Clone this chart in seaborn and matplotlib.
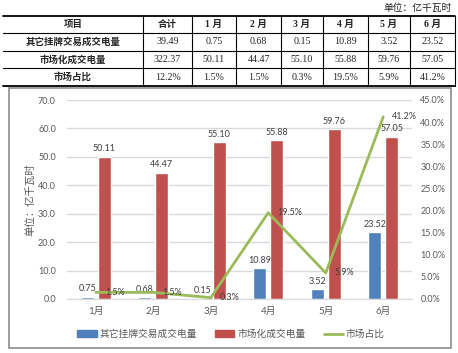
import numpy as np
import pandas as pd
import seaborn as sns
import matplotlib.pyplot as plt
from matplotlib.patches import Patch, Rectangle
from matplotlib.lines import Line2D

# data
months = ["1月", "2月", "3月", "4月", "5月", "6月"]
other_trade = [0.75, 0.68, 0.15, 10.89, 3.52, 23.52]
market_trade = [50.11, 44.47, 55.10, 55.88, 59.76, 57.05]
market_share = [1.5, 1.5, 0.3, 19.5, 5.9, 41.2]
totals = [39.49, 322.37, 12.2]
series_names = ["其它挂牌交易成交电量", "市场化成交电量", "市场占比"]
unit_text = "单位：亿千瓦时"

BLUE, RED, GREEN = "#4F81BD", "#C0504D", "#9BBB59"
GREY_TXT = "#595959"
W, H = 458, 353

sns.set_style("white")
plt.rcParams['font.family'] = ['Lato', 'Noto Sans CJK SC', 'DejaVu Sans']

fig = plt.figure(figsize=(W / 100, H / 100), dpi=100)

# ---- table on top (pixel coordinates) ----
tax = fig.add_axes([0, 0, 1, 1])
tax.set_xlim(0, W)
tax.set_ylim(H, 0)
tax.axis("off")

cjk_bold = dict(family=['Noto Sans CJK SC'], fontweight="bold", fontsize=6.8)
num_font = dict(family=['Liberation Serif', 'Noto Sans CJK SC'], fontsize=7.2)

col_edges = [3, 143, 192, 236, 281, 323, 368, 410, 455]
row_edges = [16, 33, 51, 68, 86]
col_mid = [(a + b) / 2 for a, b in zip(col_edges[:-1], col_edges[1:])]
row_mid = [(a + b) / 2 for a, b in zip(row_edges[:-1], row_edges[1:])]

tax.text(452, 8, unit_text, ha="right", va="center", fontsize=7,
         family=['Noto Sans CJK SC'], color="#222222")

header = ["项目", "合计"] + [m.replace("月", " 月") for m in months]
rows = [
    [series_names[0], f"{totals[0]:.2f}"] + [f"{v:.2f}" for v in other_trade],
    [series_names[1], f"{totals[1]:.2f}"] + [f"{v:.2f}" for v in market_trade],
    [series_names[2], f"{totals[2]:.1f}%"] + [f"{v:.1f}%" for v in market_share],
]
for j, h in enumerate(header):
    fam = cjk_bold if j < 2 else dict(family=['Liberation Serif', 'Noto Sans CJK SC'],
                                       fontweight="bold", fontsize=7)
    tax.text(col_mid[j], row_mid[0], h, ha="center", va="center", **fam)
for i, r in enumerate(rows):
    for j, cell in enumerate(r):
        style = cjk_bold if j == 0 else num_font
        tax.text(col_mid[j], row_mid[i + 1], cell, ha="center", va="center", **style)

for k, y in enumerate(row_edges):
    tax.plot([col_edges[0], col_edges[-1]], [y, y], color="black",
             lw=1.3 if k in (0, len(row_edges) - 1) else 0.8)
for x in col_edges[1:]:
    tax.plot([x, x], [row_edges[0], row_edges[-1]], color="black", lw=0.8)

# chart frame
tax.add_patch(Rectangle((9, 88), 442, 260, fill=False, ec="#8C8C8C", lw=1.2))

# ---- bar + line chart ----
ax = fig.add_axes([67 / W, (H - 299) / H, 345 / W, 199 / H])
ax.patch.set_alpha(0)

df = pd.DataFrame({
    "月份": months * 2,
    "电量": other_trade + market_trade,
    "类型": [series_names[0]] * len(months) + [series_names[1]] * len(months),
})
sns.barplot(data=df, x="月份", y="电量", hue="类型", palette=[BLUE, RED],
            width=0.58, gap=0.22, saturation=1, legend=False, ax=ax)

for c in ax.containers:
    ax.bar_label(c, labels=[f"{b.get_height():.2f}" for b in c], padding=2.5,
                 fontsize=6.5, color="#404040")

ax.set_ylim(0, 70)
ax.set_yticks(np.arange(0, 71, 10))
ax.set_yticklabels([f"{v:.1f}" for v in np.arange(0, 71, 10)])
ax.yaxis.grid(True, color="#D9D9D9", lw=1)
ax.set_axisbelow(True)
for s in ["top", "right", "left"]:
    ax.spines[s].set_visible(False)
ax.spines["bottom"].set_color("#D9D9D9")
ax.tick_params(axis="y", length=0, pad=8, labelsize=6.5, labelcolor=GREY_TXT)
ax.tick_params(axis="x", length=0, pad=5.5, labelsize=7, labelcolor=GREY_TXT)
ax.set_xlabel("")
ax.set_ylabel(unit_text, fontsize=7.5, color=GREY_TXT, family=['Noto Sans CJK SC'])
ax.yaxis.set_label_coords((35 - 67) / 345, 0.5)

ax2 = ax.twinx()
sns.lineplot(x=np.arange(len(months)), y=market_share, color=GREEN, lw=2, ax=ax2)
for i, v in enumerate(market_share):
    ax2.annotate(f"{v:.1f}%", (i, v), xytext=(6.5, 0), textcoords="offset points",
                 ha="left", va="center", fontsize=6.5, color="#404040")
ax2.set_ylim(0, 45)
ax2.set_yticks(np.arange(0, 46, 5))
ax2.set_yticklabels([f"{v:.1f}%" for v in np.arange(0, 46, 5)])
for s in ax2.spines.values():
    s.set_visible(False)
ax2.tick_params(axis="y", length=0, pad=6, labelsize=6.5, labelcolor=GREY_TXT)
ax2.set_xlim(-0.5, len(months) - 0.5)

handles = [Patch(color=BLUE), Patch(color=RED), Line2D([], [], color=GREEN, lw=2)]
fig.legend(handles, series_names, loc="center", bbox_to_anchor=(231 / W, 1 - 334 / H),
           ncol=3, frameon=False, handlelength=2, handletextpad=0.3,
           columnspacing=1.85, labelcolor=GREY_TXT, prop={'family': ['Noto Sans CJK SC'], 'size': 7})

fig.savefig("out.png", dpi=100)
